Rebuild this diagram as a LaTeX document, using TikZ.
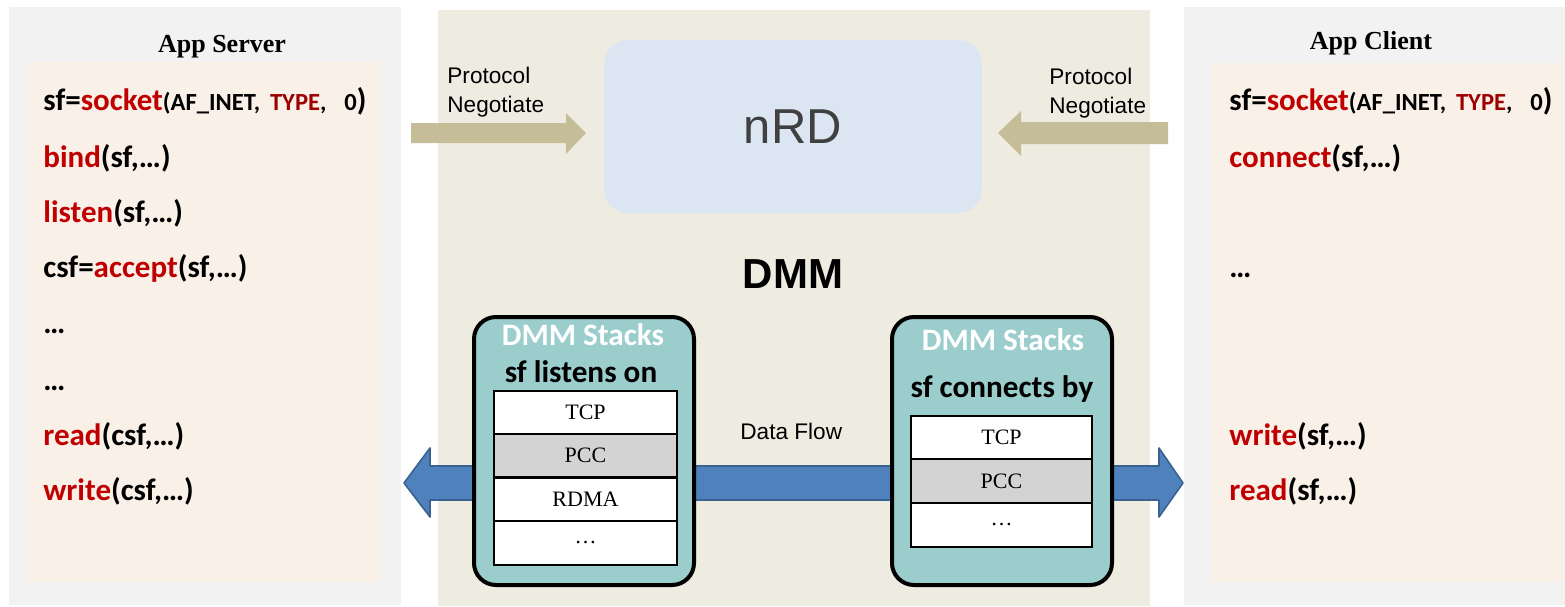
\documentclass[tikz,border=0pt]{standalone}
\usepackage{fontspec}
\setmainfont{Liberation Serif}
\newfontfamily\arialfont{Liberation Sans}
\newfontfamily\calfont{Carlito}

\definecolor{panelgray}{HTML}{F2F2F2}
\definecolor{peach}{HTML}{F9F0E8}
\definecolor{tanbg}{HTML}{EEECE1}
\definecolor{tanarrow}{HTML}{C4BD97}
\definecolor{nrdblue}{HTML}{DCE6F2}
\definecolor{nrdtext}{HTML}{404040}
\definecolor{stackteal}{HTML}{9BCDCD}
\definecolor{flowblue}{HTML}{4F81BD}
\definecolor{flowedge}{HTML}{3A6291}
\definecolor{fnred}{HTML}{C00000}
\definecolor{typered}{HTML}{9E0000}
\definecolor{rowgray}{HTML}{D3D3D3}

\newcommand\fn[1]{\textcolor{fnred}{#1}}
\newcommand\smallargs[1]{{\fontsize{12.3}{14}\selectfont #1}}

\begin{document}
\begin{tikzpicture}[x=0.5pt,y=-0.5pt,
  title/.style={anchor=base, inner sep=0pt, font=\bfseries\fontsize{13}{15}\selectfont},
  code/.style={anchor=base west, inner sep=0pt, font=\calfont\bfseries\fontsize{15.5}{18}\selectfont},
  label/.style={anchor=base west, inner sep=0pt, align=left, font=\arialfont\fontsize{11.3}{14.5}\selectfont},
  nrdbox/.style={fill=nrdblue, rounded corners=12pt, minimum width=189pt, minimum height=86.5pt,
    inner sep=0pt, text=nrdtext, font=\arialfont\fontsize{24.5}{28}\selectfont},
  stackbox/.style={draw=black, line width=2pt, fill=stackteal, rounded corners=11pt,
    minimum width=110pt, minimum height=134pt, inner sep=0pt},
  stacktitle/.style={anchor=base, inner sep=0pt, font=\calfont\bfseries\fontsize{15.6}{18}\selectfont},
  row/.style={draw=black, line width=1pt, fill=white, inner sep=0pt,
    minimum height=21.75pt, font=\fontsize{11}{13}\selectfont},
  pnarrow/.style={fill=tanarrow},
  flowarrow/.style={fill=flowblue, draw=flowedge, line width=0.8pt, line join=round}
]
\useasboundingbox (0,0) rectangle (1565,606);
\fill[white] (0,0) rectangle (1565,606);

% panels
\fill[panelgray] (9,7) rectangle (401,605);
\fill[peach] (27,62) rectangle (381,582);
\fill[tanbg] (438,10) rectangle (1150,606);
\fill[panelgray] (1184,7) rectangle (1565,605);
\fill[peach] (1212,63) rectangle (1562,582);

% server side
\node[title] (srvtitle) at (222,52) {App Server};
\node[code] (s1) at (43,110) {sf=\fn{socket}\smallargs{(AF\_INET,\hspace{5pt}\textcolor{typered}{TYPE},\hspace{9pt}0})};
\node[code] (s2) at (43,167) {\fn{bind}(sf,…)};
\node[code] (s3) at (43,222) {\fn{listen}(sf,…)};
\node[code] (s4) at (43,277) {csf=\fn{accept}(sf,…)};
\node[code] (s5) at (43,333) {…};
\node[code] (s6) at (43,390) {…};
\node[code] (s7) at (43,445) {\fn{read}(csf,…)};
\node[code] (s8) at (43,500) {\fn{write}(csf,…)};

% client side
\node[title] (clititle) at (1371,49) {App Client};
\node[code] (c1) at (1229,110) {sf=\fn{socket}\smallargs{(AF\_INET,\hspace{5pt}\textcolor{typered}{TYPE},\hspace{9pt}0})};
\node[code] (c2) at (1229,167) {\fn{connect}(sf,…)};
\node[code] (c3) at (1229,277) {…};
\node[code] (c4) at (1229,445) {\fn{write}(sf,…)};
\node[code] (c5) at (1229,500) {\fn{read}(sf,…)};

% nRD and protocol negotiation
\node[nrdbox] (nrd) at (793,126.5) {\raisebox{-1.5pt}{nRD}};
\fill[pnarrow] (411,123) -- (566,123) -- (566,113) -- (586,133) -- (566,154) -- (566,143) -- (411,143) -- cycle;
\fill[pnarrow] (1168,122) -- (1021,122) -- (1021,111) -- (998,133) -- (1021,156) -- (1021,144) -- (1168,144) -- cycle;
\node[label] (pnl) at (447,112) {Protocol\\Negotiate};
\node[label] (pnr) at (1049,113) {Protocol\\Negotiate};

\node[anchor=base, inner sep=0pt, font=\arialfont\bfseries\fontsize{21}{24}\selectfont] (dmm) at (793,288) {DMM};

% data flow
\draw[flowarrow] (404,483) -- (430,448) -- (430,466) -- (1159,466) -- (1159,448) -- (1183,483)
  -- (1159,517) -- (1159,500) -- (430,500) -- (430,517) -- cycle;
\node[label] (flow) at (740,439) {Data Flow};

% stacks
\node[stackbox] (lstack) at (584,451) {};
\node[stacktitle, text=white] (lst1) at (583,345) {DMM Stacks};
\node[stacktitle] (lst2) at (581,382) {sf listens on};
\node[row, minimum width=91.5pt] (ltcp) at (585.5,412.5) {TCP};
\node[row, minimum width=91.5pt, fill=rowgray] (lpcc) at (585.5,455.5) {PCC};
\node[row, minimum width=91.5pt] (lrdma) at (585.5,499.5) {RDMA};
\node[row, minimum width=91.5pt] (ldots) at (585.5,543) {…};

\node[stackbox] (rstack) at (1002,451) {};
\node[stacktitle, text=white] (rst1) at (1003,350) {DMM Stacks};
\node[stacktitle] (rst2) at (1002,397) {sf connects by};
\node[row, minimum width=90.5pt] (rtcp) at (1001.5,437.5) {TCP};
\node[row, minimum width=90.5pt, fill=rowgray] (rpcc) at (1001.5,481) {PCC};
\node[row, minimum width=90.5pt] (rdots) at (1001.5,525) {…};
\end{tikzpicture}
\end{document}
